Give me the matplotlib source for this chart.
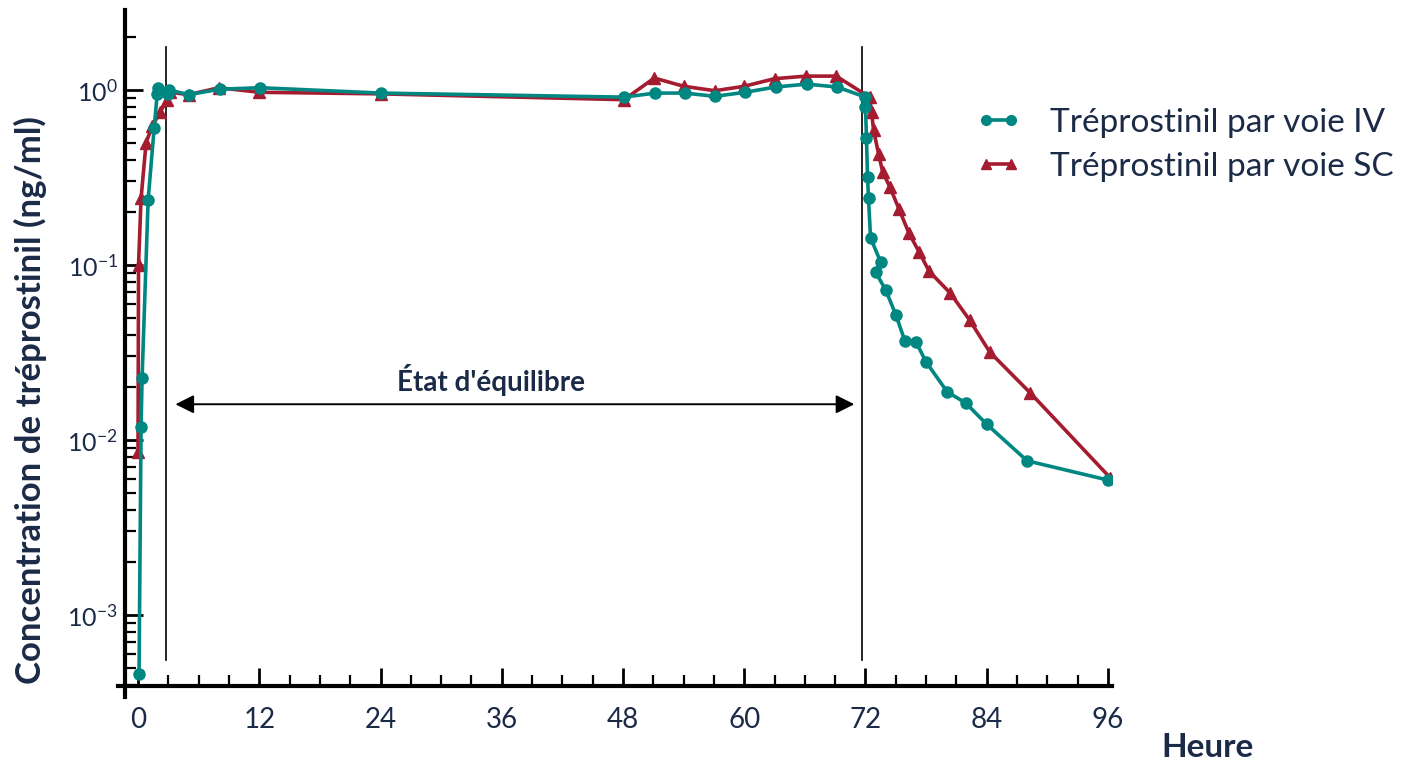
import matplotlib
matplotlib.use("Agg")
import matplotlib.pyplot as plt
from matplotlib.ticker import LogLocator, MultipleLocator
from matplotlib.lines import Line2D

plt.rcParams['font.family'] = ['Lato', 'DejaVu Sans']
plt.rcParams['mathtext.fontset'] = 'custom'
plt.rcParams['mathtext.rm'] = 'Lato'
plt.rcParams['mathtext.it'] = 'Lato:italic'
plt.rcParams['mathtext.bf'] = 'Lato:bold'

# Tréprostinil IV (heures, ng/ml)
iv_t = [0.1, 0.3, 0.4, 1.0, 1.6, 1.9, 2.0, 3.0, 3.1, 5.0, 8.1, 12.1, 24.0, 48.1,
        51.2, 54.1, 57.1, 60.1, 63.1, 66.2, 69.2, 72.0, 72.0, 72.1, 72.2, 72.3,
        72.5, 73.5, 73.0, 74.0, 75.0, 75.9, 77.0, 78.0, 80.1, 81.9, 84.0, 88.0, 96.0]
iv_c = [0.00046, 0.0119, 0.0226, 0.235, 0.61, 0.95, 1.03, 0.95, 1.0, 0.94, 1.01, 1.03, 0.96, 0.91,
        0.96, 0.96, 0.92, 0.97, 1.04, 1.08, 1.04, 0.91, 0.80, 0.53, 0.32, 0.24,
        0.143, 0.104, 0.091, 0.072, 0.052, 0.0368, 0.0363, 0.0279, 0.0188, 0.0163, 0.0123, 0.0076, 0.0059]

# Tréprostinil SC
sc_t = [0.0, 0.05, 0.3, 0.8, 1.4, 2.2, 2.9, 3.2, 5.0, 8.0, 12.0, 24.0, 48.1,
        51.1, 54.0, 57.1, 60.0, 63.0, 66.1, 69.1, 72.4, 72.6, 72.8, 73.3, 73.7,
        74.4, 75.3, 76.3, 77.3, 78.3, 80.4, 82.3, 84.3, 88.3, 96.2]
sc_c = [0.0085, 0.10, 0.24, 0.50, 0.62, 0.75, 0.88, 0.97, 0.94, 1.03, 0.97, 0.95, 0.88,
        1.17, 1.05, 0.99, 1.05, 1.16, 1.20, 1.20, 0.91, 0.75, 0.59, 0.43, 0.34,
        0.28, 0.21, 0.152, 0.119, 0.092, 0.069, 0.0485, 0.0318, 0.0186, 0.0061]

x_ticks = [0, 12, 24, 36, 48, 60, 72, 84, 96]
equilibre = (2.8, 71.7)

teal = '#008782'
rouge = '#a51c30'
texte = '#1b2a47'

fig = plt.figure(figsize=(14.06, 7.63), dpi=100)
ax = fig.add_axes([0.0889, 0.1009, 0.702, 0.886])

ax.plot(sc_t, sc_c, color=rouge, lw=2.6, marker='^', ms=8, zorder=3)
ax.plot(iv_t, iv_c, color=teal, lw=2.6, marker='o', ms=8, zorder=4)

ax.set_yscale('log')
ax.set_xlim(-1.29, 96.4)
ax.set_ylim(10 ** -3.406, 10 ** 0.457)

# lignes verticales de l'état d'équilibre
for t in equilibre:
    ax.plot([t, t], [5.5e-4, 1.75], color='black', lw=1.2, zorder=2)

ax.annotate('', xy=(equilibre[0] + 0.9, 0.016), xytext=(equilibre[1] - 0.8, 0.016),
            arrowprops=dict(arrowstyle='<|-|>', color='black', lw=1.4, mutation_scale=28,
                            shrinkA=0, shrinkB=0))
ax.text(34.9, 0.022, "État d'équilibre", ha='center', va='center', fontsize=20,
        fontweight='bold', color=texte)

ax.set_xticks(x_ticks)
ax.xaxis.set_minor_locator(MultipleLocator(3))
ax.yaxis.set_major_locator(LogLocator(base=10, numticks=10))
ax.yaxis.set_minor_locator(LogLocator(base=10, subs=range(2, 10), numticks=20))
ax.tick_params(axis='both', which='major', direction='in', length=13, width=2,
               labelcolor=texte)
ax.tick_params(axis='both', which='minor', direction='in', length=8, width=1.6)
ax.tick_params(axis='x', which='major', pad=15, labelsize=20)
ax.tick_params(axis='y', which='major', pad=5, labelsize=18)

for s in ['top', 'right']:
    ax.spines[s].set_visible(False)
for s in ['left', 'bottom']:
    ax.spines[s].set_linewidth(3)

# petits débords des axes
ax.plot([-0.007, 0], [0, 0], transform=ax.transAxes, color='black', lw=3, clip_on=False)
ax.plot([0, 0], [-0.016, 0], transform=ax.transAxes, color='black', lw=3, clip_on=False)

fig.text(0.022, 0.476, 'Concentration de tréprostinil (ng/ml)', rotation=90,
         ha='center', va='center', fontsize=25, fontweight='bold', color=texte)
fig.text(0.8585, 0.0197, 'Heure', ha='center', va='center', fontsize=24,
         fontweight='bold', color=texte)

handles = [Line2D([], [], color=teal, lw=2.6, marker='o', ms=7),
           Line2D([], [], color=rouge, lw=2.6, marker='^', ms=7)]
leg = fig.legend(handles, ['Tréprostinil par voie IV', 'Tréprostinil par voie SC'],
                 loc='upper left', bbox_to_anchor=(0.673, 0.898), frameon=False,
                 fontsize=24, numpoints=2, handlelength=1.35, handletextpad=0.85,
                 labelspacing=0.43)
for t in leg.get_texts():
    t.set_color(texte)

fig.savefig('out.png', dpi=100)
